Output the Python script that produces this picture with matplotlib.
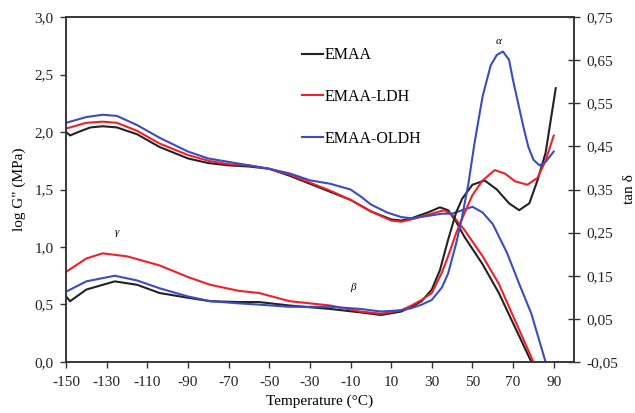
import matplotlib
matplotlib.use('Agg')
import matplotlib.pyplot as plt

plt.rcParams['font.family'] = ['Liberation Serif', 'DejaVu Serif']
plt.rcParams['axes.unicode_minus'] = False

# log G'' (left axis)
t_g_black = [-150, -148, -144, -138, -132, -125, -115, -104, -90, -80, -70, -60, -50, -40, -30, -20, -10, 0, 10, 15, 20, 28, 34, 38, 42, 46, 55, 63, 71, 79]
g_black = [2.00, 1.97, 2.00, 2.04, 2.05, 2.04, 1.98, 1.87, 1.77, 1.73, 1.71, 1.70, 1.68, 1.62, 1.55, 1.48, 1.41, 1.31, 1.24, 1.23, 1.25, 1.30, 1.345, 1.32, 1.22, 1.09, 0.85, 0.60, 0.30, 0.00]

t_g_red = [-150, -140, -132, -125, -115, -104, -90, -80, -70, -60, -50, -40, -30, -20, -10, 0, 10, 15, 20, 28, 36, 40, 46, 55, 63, 71, 80]
g_red = [2.03, 2.08, 2.09, 2.08, 2.01, 1.90, 1.80, 1.75, 1.72, 1.71, 1.68, 1.63, 1.56, 1.49, 1.41, 1.31, 1.23, 1.22, 1.24, 1.28, 1.32, 1.28, 1.15, 0.92, 0.68, 0.36, 0.00]

t_g_blue = [-150, -140, -132, -125, -115, -104, -90, -80, -70, -60, -50, -40, -30, -20, -10, -5, 0, 8, 15, 20, 28, 35, 40, 45, 50, 55, 60, 67, 73, 79, 86]
g_blue = [2.08, 2.13, 2.15, 2.14, 2.06, 1.95, 1.83, 1.77, 1.74, 1.71, 1.68, 1.64, 1.58, 1.55, 1.50, 1.44, 1.37, 1.30, 1.26, 1.25, 1.27, 1.29, 1.29, 1.32, 1.35, 1.30, 1.20, 0.95, 0.68, 0.42, 0.00]

# tan delta (right axis)
t_d_black = [-150, -148, -140, -126, -115, -104, -90, -79, -65, -55, -40, -20, -5, 5, 15, 20, 25, 30, 34, 38, 42, 45, 50, 56, 62, 68, 73, 78, 82, 86, 91]
d_black = [0.102, 0.091, 0.118, 0.137, 0.129, 0.110, 0.099, 0.091, 0.089, 0.089, 0.081, 0.073, 0.065, 0.059, 0.067, 0.078, 0.091, 0.118, 0.163, 0.233, 0.297, 0.329, 0.361, 0.371, 0.350, 0.318, 0.302, 0.318, 0.371, 0.435, 0.585]

t_d_red = [-150, -140, -132, -120, -104, -90, -79, -65, -55, -40, -20, -5, 5, 15, 20, 25, 30, 35, 38, 42, 46, 50, 55, 61, 66, 71, 77, 82, 86, 90]
d_red = [0.159, 0.190, 0.202, 0.195, 0.174, 0.147, 0.129, 0.115, 0.110, 0.091, 0.081, 0.067, 0.062, 0.070, 0.081, 0.094, 0.110, 0.158, 0.195, 0.249, 0.294, 0.337, 0.371, 0.395, 0.387, 0.369, 0.361, 0.377, 0.417, 0.475]

t_d_blue = [-150, -140, -126, -115, -104, -90, -79, -65, -55, -40, -20, -5, 5, 15, 20, 25, 30, 35, 38, 42, 45, 48, 51, 55, 59, 62, 65, 68, 70, 72.5, 75, 77.5, 80, 83, 86, 90]
d_blue = [0.113, 0.137, 0.150, 0.139, 0.121, 0.102, 0.091, 0.086, 0.083, 0.078, 0.078, 0.073, 0.067, 0.070, 0.075, 0.083, 0.094, 0.123, 0.155, 0.225, 0.289, 0.363, 0.457, 0.566, 0.638, 0.662, 0.670, 0.651, 0.603, 0.550, 0.497, 0.449, 0.419, 0.406, 0.414, 0.438]

c_black = '#222222'
c_red = '#f0202a'
c_blue = '#3a4cc0'
lw = 1.5

fig = plt.figure(figsize=(6.35, 4.13), dpi=100)
ax = fig.add_axes([0.104, 0.1235, 0.800, 0.8353])
ax2 = ax.twinx()

l1, = ax.plot(t_g_black, g_black, color=c_black, lw=lw, label='EMAA')
l2, = ax.plot(t_g_red, g_red, color=c_red, lw=lw, label='EMAA-LDH')
l3, = ax.plot(t_g_blue, g_blue, color=c_blue, lw=lw, label='EMAA-OLDH')

ax2.plot(t_d_black, d_black, color=c_black, lw=lw)
ax2.plot(t_d_red, d_red, color=c_red, lw=lw)
ax2.plot(t_d_blue, d_blue, color=c_blue, lw=lw)

ax.set_xlim(-150, 100)
ax.set_ylim(0, 3)
ax2.set_ylim(-0.05, 0.75)

ax.set_xticks(range(-150, 91, 20))
ax.set_yticks([0, 0.5, 1, 1.5, 2, 2.5, 3])
ax.set_yticklabels(['0,0', '0,5', '1,0', '1,5', '2,0', '2,5', '3,0'])
rt = [-0.05, 0.05, 0.15, 0.25, 0.35, 0.45, 0.55, 0.65, 0.75]
ax2.set_yticks(rt)
ax2.set_yticklabels([f'{v:.2f}'.replace('.', ',') for v in rt])

for a in (ax, ax2):
    for s in a.spines.values():
        s.set_linewidth(1.1)
        s.set_color('#333333')
ax.tick_params(axis='x', direction='out', length=4, width=1, labelsize=11, pad=6, colors='#333333', labelcolor='#222222')
ax.tick_params(axis='y', direction='out', length=4, width=1, labelsize=11, pad=5, colors='#333333', labelcolor='#222222')
ax2.tick_params(axis='y', direction='inout', length=8, width=1, labelsize=11, pad=5, colors='#333333', labelcolor='#222222')

ax.set_xlabel('Temperature (°C)', fontsize=11, labelpad=4)
ax.set_ylabel('log G" (MPa)', fontsize=11, labelpad=6)
ax2.set_ylabel('tan δ', fontsize=11, rotation=90, labelpad=3)

ax.text(-125, 1.13, 'γ', fontsize=8, style='italic', ha='center', va='center')
ax.text(-9, 0.65, 'β', fontsize=8, style='italic', ha='center', va='center')
ax.text(63, 2.79, 'α', fontsize=8, style='italic', ha='center', va='center')

ax.legend(handles=[l1, l2, l3], loc='upper left', bbox_to_anchor=(0.476, 0.885),
          bbox_transform=fig.transFigure, frameon=False, fontsize=11.5,
          handlelength=1.3, handletextpad=0.1, labelspacing=1.6,
          borderpad=0, borderaxespad=0)

fig.savefig('out.png', dpi=100)
